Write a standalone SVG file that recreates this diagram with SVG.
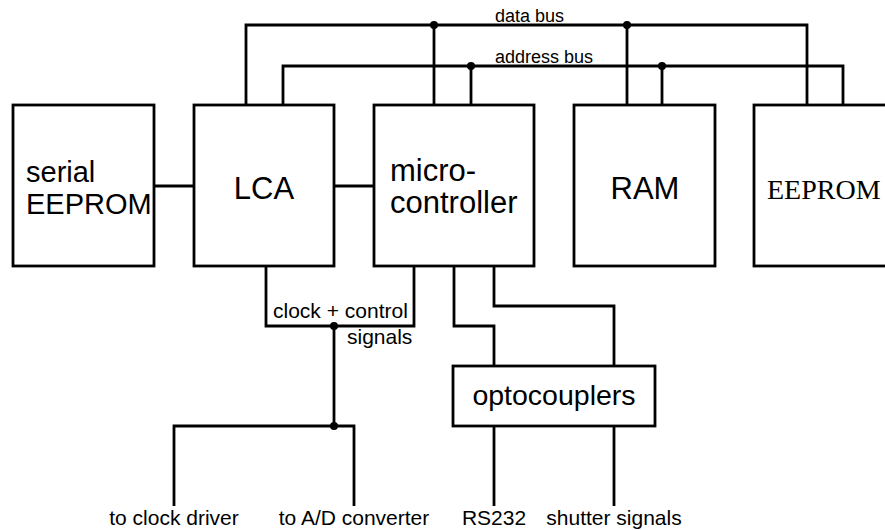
<svg xmlns="http://www.w3.org/2000/svg" width="885" height="530" viewBox="0 0 885 530">
<style>
.box{fill:#fff;stroke:#000;stroke-width:2.8}
.w{fill:none;stroke:#000;stroke-width:2.8;stroke-linejoin:miter}
.dot{fill:#000}
text{font-family:"Liberation Sans",Arial,sans-serif;fill:#000}
.big{font-size:29px}
.mid{font-size:31px}
.sm{font-size:18px}
.lb{font-size:21px}
.serif{font-family:"Liberation Serif","Times New Roman",serif;font-size:28px}
</style>
<rect width="885" height="530" fill="#fff"/>
<g id="connectors">
<polyline class="w" points="246,105 246,25 807,25 807,105"/>
<line class="w" x1="434" y1="25" x2="434" y2="105"/>
<line class="w" x1="627" y1="25" x2="627" y2="105"/>
<polyline class="w" points="283,105 283,66 843,66 843,105"/>
<line class="w" x1="471" y1="66" x2="471" y2="105"/>
<line class="w" x1="662" y1="66" x2="662" y2="105"/>
<circle class="dot" cx="434" cy="25" r="4"/>
<circle class="dot" cx="627" cy="25" r="4"/>
<circle class="dot" cx="471" cy="66" r="4"/>
<circle class="dot" cx="662" cy="66" r="4"/>
<line class="w" x1="154" y1="186" x2="194" y2="186"/>
<line class="w" x1="334" y1="186" x2="374" y2="186"/>
<polyline class="w" points="266,266 266,326 414,326 414,266"/>
<polyline class="w" points="334,326 334,426"/>
<polyline class="w" points="174,506 174,426 354,426 354,506"/>
<circle class="dot" cx="334" cy="326" r="4"/>
<circle class="dot" cx="334" cy="426" r="4"/>
<polyline class="w" points="454,266 454,326 494,326 494,366"/>
<polyline class="w" points="494,266 494,306 614,306 614,366"/>
<line class="w" x1="494" y1="426" x2="494" y2="506"/>
<line class="w" x1="614" y1="426" x2="614" y2="506"/>
<text class="sm" x="495" y="22">data bus</text>
<text class="sm" x="495" y="63">address bus</text>
<text class="lb" x="273" y="318">clock + control</text>
<text class="lb" x="347" y="344">signals</text>
<text class="lb" x="174" y="525" text-anchor="middle">to clock driver</text>
<text class="lb" x="354" y="525" text-anchor="middle">to A/D converter</text>
<text class="lb" x="494" y="525" text-anchor="middle">RS232</text>
<text class="lb" x="614" y="525" text-anchor="middle">shutter signals</text>
</g>
<g id="serial-eeprom">
<rect class="box" x="13" y="105" width="141" height="161"/>
<text class="big" x="26" y="182">serial</text>
<text class="big" x="26" y="214">EEPROM</text>
</g>
<g id="lca">
<rect class="box" x="194" y="105" width="140" height="161"/>
<text class="mid" x="264" y="199" text-anchor="middle">LCA</text>
</g>
<g id="microcontroller">
<rect class="box" x="374" y="105" width="160" height="161"/>
<text class="mid" x="390" y="181">micro-</text>
<text class="mid" x="390" y="213">controller</text>
</g>
<g id="ram">
<rect class="box" x="574" y="105" width="141" height="161"/>
<text class="mid" x="645" y="199" text-anchor="middle">RAM</text>
</g>
<g id="eeprom">
<rect class="box" x="754" y="105" width="141" height="161"/>
<text class="serif" x="767" y="199">EEPROM</text>
</g>
<g id="optocouplers">
<rect class="box" x="453" y="366" width="202" height="60"/>
<text x="554" y="405" text-anchor="middle" style="font-size:28.5px">optocouplers</text>
</g>
</svg>
